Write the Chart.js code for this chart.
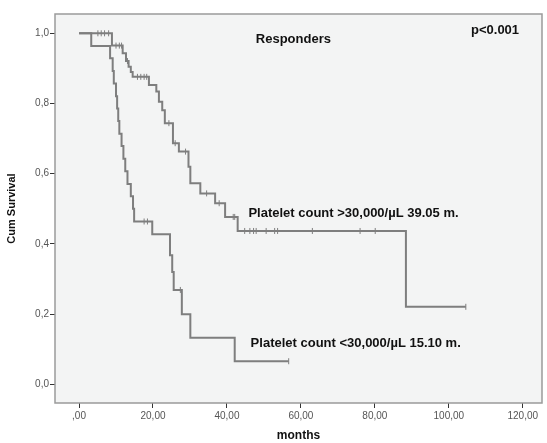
<!DOCTYPE html>
<html lang="en">
<head>
<meta charset="UTF-8">
<title>Responders - Cum Survival</title>
<script src="https://cdn.jsdelivr.net/npm/chart.js"></script>
<style>
  html, body { margin: 0; padding: 0; background: #fff; }
</style>
</head>
<body>
<canvas id="kmChart" width="547" height="443"></canvas>
<script>
// Platelet count >30,000/µL : time of each drop (months) and survival after it
var highTimes = [0, 8.9, 11.8, 12.7, 13.4, 14.0, 14.5, 18.9, 20.9, 21.6, 22.5, 23.2, 25.4, 27.0, 29.6, 30.1, 32.8, 36.8, 39.5, 42.9, 88.4, 104.6];
var highSurv  = [1.0, 0.965, 0.943, 0.921, 0.905, 0.89, 0.876, 0.853, 0.834, 0.805, 0.781, 0.744, 0.687, 0.663, 0.62, 0.573, 0.544, 0.516, 0.477, 0.437, 0.221, 0.221];
var highCensored = [5.1, 6.0, 6.9, 8.0, 10.0, 10.9, 11.5, 13.1, 15.8, 16.7, 17.6, 18.3, 24.3, 26.0, 28.8, 34.5, 37.9, 41.7, 42.1,
                    44.8, 46.2, 47.2, 47.9, 50.6, 52.9, 53.7, 63.1, 76.0, 80.1, 104.6];

// Platelet count <30,000/µL
var lowTimes = [0, 3.3, 8.4, 9.1, 9.4, 10.0, 10.3, 10.6, 10.9, 11.5, 12.0, 12.5, 13.1, 14.0, 14.6, 14.9, 19.8, 24.6, 25.2, 25.6, 27.8, 30.1, 42.1, 56.7];
var lowSurv  = [1.0, 0.964, 0.929, 0.893, 0.857, 0.821, 0.786, 0.750, 0.714, 0.679, 0.643, 0.607, 0.571, 0.536, 0.500, 0.464, 0.428, 0.368, 0.32, 0.269, 0.2, 0.133, 0.066, 0.066];
var lowCensored = [17.6, 18.5, 27.4, 56.7];

var xTickValues = [0, 20, 40, 60, 80, 100, 120];
var xTickLabels = [',00', '20,00', '40,00', '60,00', '80,00', '100,00', '120,00'];
var yTickValues = [0, 0.2, 0.4, 0.6, 0.8, 1.0];
var yTickLabels = ['0,0', '0,2', '0,4', '0,6', '0,8', '1,0'];

var lineGray = '#7e7e7e';

function steps(times, surv) {
    return times.map(function (t, i) { return { x: t, y: surv[i] }; });
}

// survival value of the curve at time t (for censor marks)
function survAt(times, surv, t) {
    var s = surv[0];
    for (var i = 0; i < times.length; i++) {
        if (times[i] <= t) s = surv[i];
    }
    return s;
}

function marks(cens, times, surv) {
    return cens.map(function (t) { return { x: t, y: survAt(times, surv, t) }; });
}

// text placed in data coordinates, left aligned
var notes = [
    { text: 'Responders', x: 47.8, y: 0.984 },
    { text: 'p<0.001', x: 106.0, y: 1.007 },
    { text: 'Platelet count >30,000/\u00b5L 39.05 m.', x: 45.8, y: 0.487 },
    { text: 'Platelet count <30,000/\u00b5L 15.10 m.', x: 46.4, y: 0.117 }
];

var framePlugin = {
    id: 'frame',
    beforeDraw: function (chart) {
        var a = chart.chartArea, ctx = chart.ctx;
        ctx.save();
        ctx.fillStyle = '#f3f4f4';
        ctx.fillRect(a.left, a.top, a.right - a.left, a.bottom - a.top);
        ctx.restore();
    },
    afterDraw: function (chart) {
        var a = chart.chartArea, ctx = chart.ctx;
        ctx.save();
        ctx.strokeStyle = '#9a9a9a';
        ctx.lineWidth = 1.5;
        ctx.strokeRect(a.left, a.top, a.right - a.left, a.bottom - a.top);
        ctx.fillStyle = '#111';
        ctx.font = 'bold 13px "Liberation Sans", Arial, sans-serif';
        ctx.textBaseline = 'middle';
        ctx.textAlign = 'left';
        notes.forEach(function (n) {
            ctx.fillText(n.text, chart.scales.x.getPixelForValue(n.x), chart.scales.y.getPixelForValue(n.y));
        });
        ctx.restore();
    }
};

var config = {
    type: 'line',
    data: {
        datasets: [{
            data: steps(highTimes, highSurv),
            stepped: 'before',
            borderColor: lineGray,
            borderWidth: 2,
            pointRadius: 0,
            fill: false
        }, {
            data: steps(lowTimes, lowSurv),
            stepped: 'before',
            borderColor: lineGray,
            borderWidth: 2,
            pointRadius: 0,
            fill: false
        }, {
            data: marks(highCensored, highTimes, highSurv),
            showLine: false,
            pointStyle: 'line',
            rotation: 90,
            pointRadius: 3,
            borderWidth: 1,
            borderColor: lineGray
        }, {
            data: marks(lowCensored, lowTimes, lowSurv),
            showLine: false,
            pointStyle: 'line',
            rotation: 90,
            pointRadius: 3,
            borderWidth: 1,
            borderColor: lineGray
        }]
    },
    options: {
        responsive: false,
        animation: false,
        devicePixelRatio: 1,
        layout: { padding: { top: 14, right: 1, left: 0, bottom: 0 } },
        plugins: {
            legend: { display: false },
            tooltip: { enabled: false }
        },
        scales: {
            x: {
                type: 'linear',
                min: -6.5,
                max: 125.2,
                afterBuildTicks: function (scale) {
                    scale.ticks = xTickValues.map(function (v) { return { value: v }; });
                },
                afterFit: function (scale) { scale.height = 40; },
                border: { display: false },
                grid: { drawOnChartArea: false, tickLength: 5, color: '#333' },
                ticks: {
                    padding: 2,
                    color: '#555',
                    font: { family: '"Liberation Sans", Arial, sans-serif', size: 10 },
                    callback: function (v) { return xTickLabels[xTickValues.indexOf(v)]; }
                },
                title: {
                    display: true,
                    text: 'months',
                    color: '#111',
                    padding: { top: 0, bottom: 0 },
                    font: { family: '"Liberation Sans", Arial, sans-serif', size: 12, weight: 'bold' }
                }
            },
            y: {
                type: 'linear',
                min: -0.053,
                max: 1.055,
                afterBuildTicks: function (scale) {
                    scale.ticks = yTickValues.map(function (v) { return { value: v }; });
                },
                afterFit: function (scale) { scale.width = 55; },
                border: { display: false },
                grid: { drawOnChartArea: false, tickLength: 5, color: '#333' },
                ticks: {
                    padding: 1,
                    color: '#555',
                    font: { family: '"Liberation Sans", Arial, sans-serif', size: 10 },
                    callback: function (v) { return yTickLabels[yTickValues.indexOf(v)]; }
                },
                title: {
                    display: true,
                    text: 'Cum Survival',
                    color: '#111',
                    padding: { top: 5, bottom: 0 },
                    font: { family: '"Liberation Sans", Arial, sans-serif', size: 11, weight: 'bold' }
                }
            }
        }
    },
    plugins: [framePlugin]
};

var ctx = document.getElementById('kmChart').getContext('2d');
var kmChart = new Chart(ctx, config);
</script>
</body>
</html>
